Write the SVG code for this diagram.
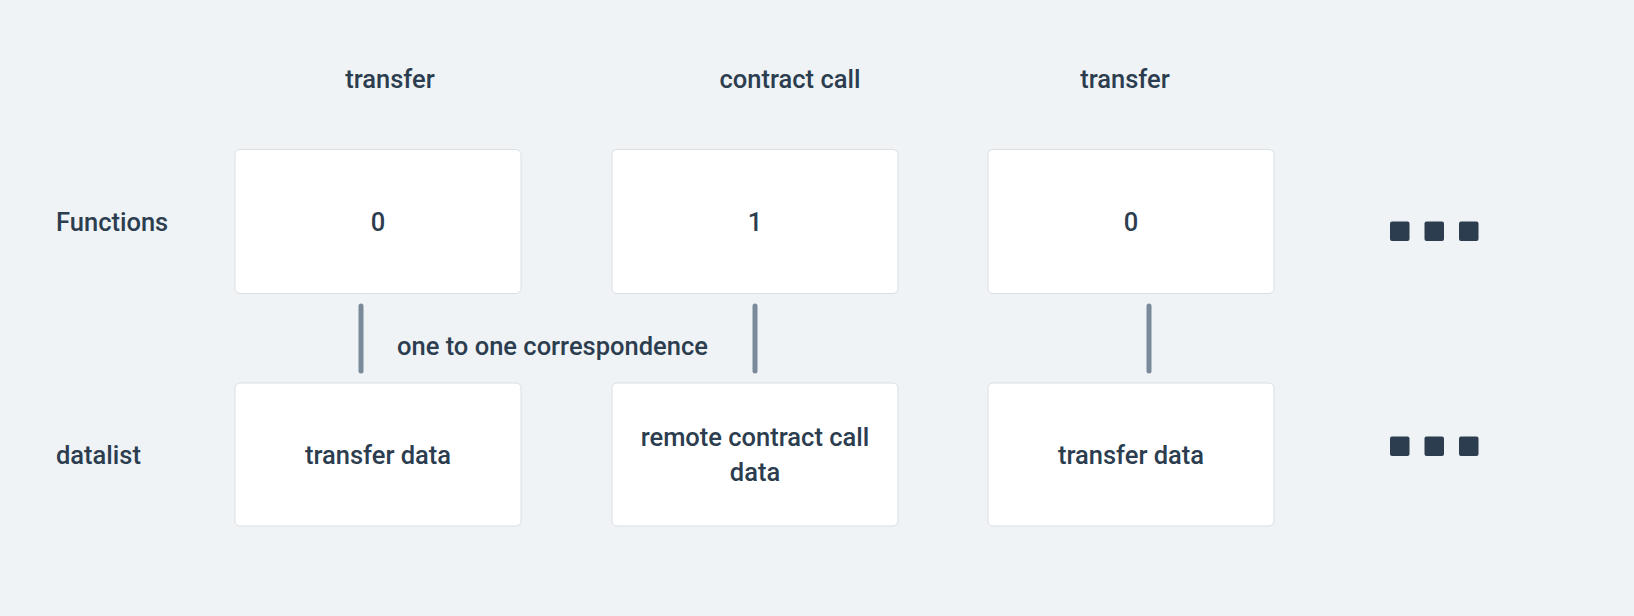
<svg xmlns="http://www.w3.org/2000/svg" width="1634" height="616" viewBox="0 0 1634 616">
<style>
text{font-family:Roboto,"Liberation Sans",sans-serif;font-size:25.5px;font-weight:500;fill:#2c3d4f}
.box{fill:#ffffff;stroke:#dadfe4;stroke-width:1}
.c{text-anchor:middle}
.dot{fill:#2c3d4f}
.conn{stroke:#7a8a9b;stroke-width:5;stroke-linecap:round}
</style>
<rect width="1634" height="616" fill="#eff3f6"/>
<g id="headers">
<text class="c" x="390" y="88">transfer</text>
<text class="c" x="790" y="88">contract call</text>
<text class="c" x="1125" y="88">transfer</text>
</g>
<g id="row-labels">
<text x="56" y="231">Functions</text>
<text x="56" y="464">datalist</text>
</g>
<g id="f0"><rect class="box" x="235" y="149.5" width="286" height="144" rx="5"/><text class="c" x="378" y="231">0</text></g>
<g id="f1"><rect class="box" x="612" y="149.5" width="286" height="144" rx="5"/><text class="c" x="755" y="231">1</text></g>
<g id="f2"><rect class="box" x="988" y="149.5" width="286" height="144" rx="5"/><text class="c" x="1131" y="231">0</text></g>
<g id="d0"><rect class="box" x="235" y="383" width="286" height="143" rx="5"/><text class="c" x="378" y="464">transfer data</text></g>
<g id="d1"><rect class="box" x="612" y="383" width="286" height="143" rx="5"/><text class="c" x="755" y="446">remote contract call</text><text class="c" x="755" y="481">data</text></g>
<g id="d2"><rect class="box" x="988" y="383" width="286" height="143" rx="5"/><text class="c" x="1131" y="464">transfer data</text></g>
<g id="more-functions"><rect class="dot" x="1390" y="221.5" width="19.5" height="19.5" rx="2"/><rect class="dot" x="1424.5" y="221.5" width="19.5" height="19.5" rx="2"/><rect class="dot" x="1459" y="221.5" width="19.5" height="19.5" rx="2"/></g>
<g id="more-data"><rect class="dot" x="1390" y="436.5" width="19.5" height="19.5" rx="2"/><rect class="dot" x="1424.5" y="436.5" width="19.5" height="19.5" rx="2"/><rect class="dot" x="1459" y="436.5" width="19.5" height="19.5" rx="2"/></g>
<g id="connectors">
<line class="conn" x1="361" y1="306" x2="361" y2="371"/>
<line class="conn" x1="755" y1="306" x2="755" y2="371"/>
<line class="conn" x1="1149" y1="306" x2="1149" y2="371"/>
<text x="397" y="355">one to one correspondence</text>
</g>
</svg>
